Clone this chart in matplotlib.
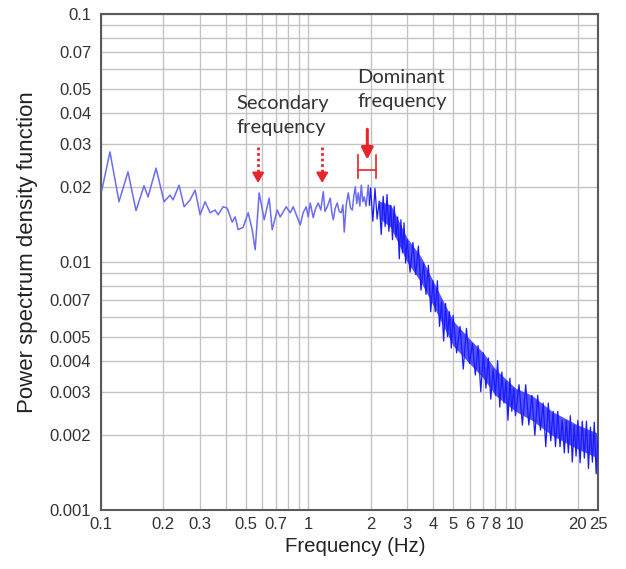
import matplotlib
matplotlib.use("Agg")
import matplotlib.pyplot as plt
from matplotlib.ticker import FixedLocator, FixedFormatter, LogLocator, NullFormatter

# low-frequency part of the spectrum
freq_low = [0.101, 0.1105, 0.1222, 0.135, 0.1476, 0.1613, 0.1687, 0.1844, 0.2016, 0.2154,
            0.2227, 0.2381, 0.2518, 0.2692, 0.2845, 0.3008, 0.3179, 0.3362, 0.3553, 0.3674,
            0.3885, 0.4061, 0.4295, 0.444, 0.4591, 0.4853, 0.5131, 0.5365, 0.5546, 0.5798,
            0.6131, 0.6481, 0.6701, 0.7085, 0.7323, 0.7832, 0.8185, 0.8464, 0.9148, 0.945,
            0.9779, 1.0, 1.0225, 1.0573, 1.085, 1.1176, 1.15, 1.1816, 1.205, 1.2355,
            1.2773, 1.30, 1.3207, 1.35, 1.3808, 1.41, 1.4435, 1.47, 1.4925, 1.525,
            1.5607, 1.60, 1.6318, 1.66, 1.6866, 1.715, 1.7433, 1.775, 1.803, 1.835,
            1.8643, 1.90, 1.9498, 1.975]
psd_low = [0.0195, 0.0278, 0.0175, 0.0231, 0.0161, 0.0203, 0.0183, 0.0239, 0.0175, 0.0186,
           0.0178, 0.0204, 0.0167, 0.0178, 0.0195, 0.0155, 0.0175, 0.0158, 0.0162, 0.0155,
           0.0167, 0.0165, 0.0145, 0.0152, 0.0135, 0.0138, 0.0158, 0.0135, 0.0112, 0.0190,
           0.0148, 0.0181, 0.0135, 0.0162, 0.0152, 0.0167, 0.0158, 0.0167, 0.0141, 0.0158,
           0.0167, 0.0152, 0.0173, 0.0151, 0.0164, 0.0173, 0.0162, 0.0192, 0.0160, 0.0167,
           0.0181, 0.0158, 0.0148, 0.0165, 0.0173, 0.0160, 0.0158, 0.0170, 0.0132, 0.0170,
           0.0190, 0.0165, 0.0162, 0.0185, 0.0201, 0.0172, 0.0190, 0.0168, 0.0204, 0.0175,
           0.0183, 0.0168, 0.0204, 0.0170]

# high-frequency (noisy) part
freq_high = [2.00, 2.05, 2.10, 2.15, 2.20, 2.25, 2.30, 2.35, 2.40, 2.45, 2.50, 2.55, 2.60, 2.65,
             2.70, 2.75, 2.80, 2.85, 2.90, 2.95, 3.00,
             3.1, 3.2, 3.3, 3.4, 3.5, 3.6, 3.7, 3.8, 3.9, 4.0, 4.1, 4.2, 4.3, 4.4, 4.5, 4.6,
             4.7, 4.8, 4.9, 5.0,
             5.2, 5.4, 5.6, 5.8, 6.0, 6.2, 6.4, 6.6, 6.8, 7.0, 7.2, 7.4, 7.6, 7.8, 8.0, 8.2,
             8.4, 8.6, 8.8, 9.0, 9.2, 9.4, 9.6, 9.8, 10.0,
             10.4, 10.8, 11.2, 11.6, 12.0, 12.4, 12.8, 13.2, 13.6, 14.0, 14.4, 14.8, 15.2,
             15.6, 16.0, 16.4, 16.8, 17.2, 17.6, 18.0, 18.4, 18.8, 19.2, 19.6, 20.0,
             20.5, 21.0, 21.5, 22.0, 22.5, 23.0, 23.5, 24.0, 24.5, 25.0]
psd_high = [0.0199, 0.0146, 0.0198, 0.0149, 0.0176, 0.0129, 0.0184, 0.0139, 0.0187, 0.0133,
            0.0169, 0.0123, 0.0168, 0.0126, 0.0152, 0.0103, 0.0148, 0.0109, 0.0144, 0.0099,
            0.0123,
            0.0091, 0.0120, 0.0089, 0.0116, 0.0077, 0.0099, 0.0074, 0.0097, 0.0063, 0.0084,
            0.0063, 0.0084, 0.0055, 0.0069, 0.0048, 0.0068, 0.0050, 0.0063, 0.0045, 0.0061,
            0.0043, 0.0055, 0.0037, 0.0054, 0.0039, 0.0047, 0.0035, 0.0046, 0.0030, 0.0043,
            0.0031, 0.0041, 0.0028, 0.0037, 0.0029, 0.0040, 0.0026, 0.0036, 0.0027, 0.0033,
            0.0023, 0.0034, 0.0025, 0.0031, 0.0024,
            0.0032, 0.0022, 0.0032, 0.0022, 0.0029, 0.0020, 0.0029, 0.0021, 0.0027, 0.0018,
            0.0027, 0.0019, 0.0025, 0.0018, 0.0025, 0.0018, 0.0023, 0.0017, 0.0023, 0.0017,
            0.0024, 0.00156, 0.0022, 0.00165, 0.0023,
            0.00155, 0.00228, 0.00162, 0.00228, 0.00147, 0.00216, 0.00156, 0.00226, 0.00140,
            0.00197]

# envelope of the dense band
band_freq = [2.2, 2.5, 3.0, 3.5, 4.0, 5.0, 6.0, 7.0, 8.0, 10.0, 12.0, 15.0, 20.0, 25.0]
band_lo = [0.0150, 0.0138, 0.0100, 0.0083, 0.0067, 0.0046, 0.0039, 0.0034, 0.0029, 0.0025,
           0.0023, 0.0020, 0.00176, 0.00162]
band_hi = [0.0176, 0.0170, 0.0125, 0.0105, 0.0084, 0.0058, 0.0049, 0.0043, 0.0037, 0.0031,
           0.0029, 0.0025, 0.0022, 0.00204]

x_ticks = [0.1, 0.2, 0.3, 0.5, 0.7, 1, 2, 3, 4, 5, 6, 7, 8, 10, 20, 25]
x_labels = ["0.1", "0.2", "0.3", "0.5", "0.7", "1", "2", "3", "4", "5", "6", "7", "8",
            "10", "20", "25"]
y_ticks = [0.001, 0.002, 0.003, 0.004, 0.005, 0.007, 0.01, 0.02, 0.03, 0.04, 0.05, 0.07, 0.1]
y_labels = ["0.001", "0.002", "0.003", "0.004", "0.005", "0.007", "0.01", "0.02", "0.03",
            "0.04", "0.05", "0.07", "0.1"]

# annotation positions
secondary_freqs = [0.573, 1.168]
dominant_freq = 1.928
dominant_band = [1.74, 2.13]

red = "#e8262a"

fig = plt.figure(figsize=(6.26, 5.69), dpi=100)
ax = fig.add_axes([0.1613, 0.1037, 0.7939, 0.8717])
ax.set_xscale("log")
ax.set_yscale("log")
ax.set_xlim(0.1, 25)
ax.set_ylim(0.001, 0.1)

ax.fill_between(band_freq, band_lo, band_hi, color="#1a1aff", alpha=0.75, lw=0, zorder=2)
ax.plot(freq_low, psd_low, color="#6c6cf2", lw=1.1, zorder=3, solid_joinstyle="round")
ax.plot(freq_low[-1:] + freq_high, psd_low[-1:] + psd_high, color="#1a1aff", lw=0.9, zorder=3)

ax.xaxis.set_major_locator(FixedLocator(x_ticks))
ax.xaxis.set_major_formatter(FixedFormatter(x_labels))
ax.yaxis.set_major_locator(FixedLocator(y_ticks))
ax.yaxis.set_major_formatter(FixedFormatter(y_labels))
for axis in (ax.xaxis, ax.yaxis):
    axis.set_minor_locator(LogLocator(base=10, subs=range(2, 10), numticks=20))
    axis.set_minor_formatter(NullFormatter())
ax.grid(which="both", color="#c4c4c4", lw=1.0, zorder=0)
ax.set_axisbelow(True)
ax.tick_params(which="both", length=0, labelsize=12, colors="#333333")
ax.tick_params(axis="y", pad=7)
ax.tick_params(axis="x", pad=5)
for lab in ax.get_xticklabels() + ax.get_yticklabels():
    lab.set_family("Liberation Sans")
for sp in ax.spines.values():
    sp.set_color("#5a5a5a")
    sp.set_linewidth(1.5)

ax.set_xlabel("Frequency (Hz)", fontsize=14.7, family="Liberation Sans", color="#222222")
ax.set_ylabel("Power spectrum density function", fontsize=16, family="Liberation Sans",
              color="#222222")
ax.xaxis.set_label_coords(0.511, -0.055)
ax.yaxis.set_label_coords(-0.127, 0.52)

# secondary frequency arrows (dotted shaft)
for f in secondary_freqs:
    ax.plot([f, f], [0.0290, 0.0222], color=red, lw=2.0, ls=(0, (1, 1)), zorder=4)
    ax.annotate("", xy=(f, 0.0203), xytext=(f, 0.0225),
                arrowprops=dict(arrowstyle="-|>,head_width=0.35,head_length=0.6", color=red, lw=1.5),
                zorder=4)
ax.text(0.449, 0.0388, "Secondary\nfrequency", ha="left", va="center", fontsize=14.5,
        family="Lato", color="#333333", linespacing=1.5)

# dominant frequency arrow and bracket
ax.annotate("", xy=(dominant_freq, 0.0252), xytext=(dominant_freq, 0.0352),
            arrowprops=dict(arrowstyle="-|>,head_width=0.35,head_length=0.7", color=red, lw=2.2),
            zorder=4)
ax.plot(dominant_band, [0.0235, 0.0235], color=red, lw=1.2, zorder=4)
for f in dominant_band:
    ax.plot([f, f], [0.0218, 0.0270], color=red, lw=1.2, zorder=4)
ax.text(1.73, 0.0494, "Dominant\nfrequency", ha="left", va="center", fontsize=14.5,
        family="Lato", color="#333333", linespacing=1.5)

fig.savefig("out.png", dpi=100)
